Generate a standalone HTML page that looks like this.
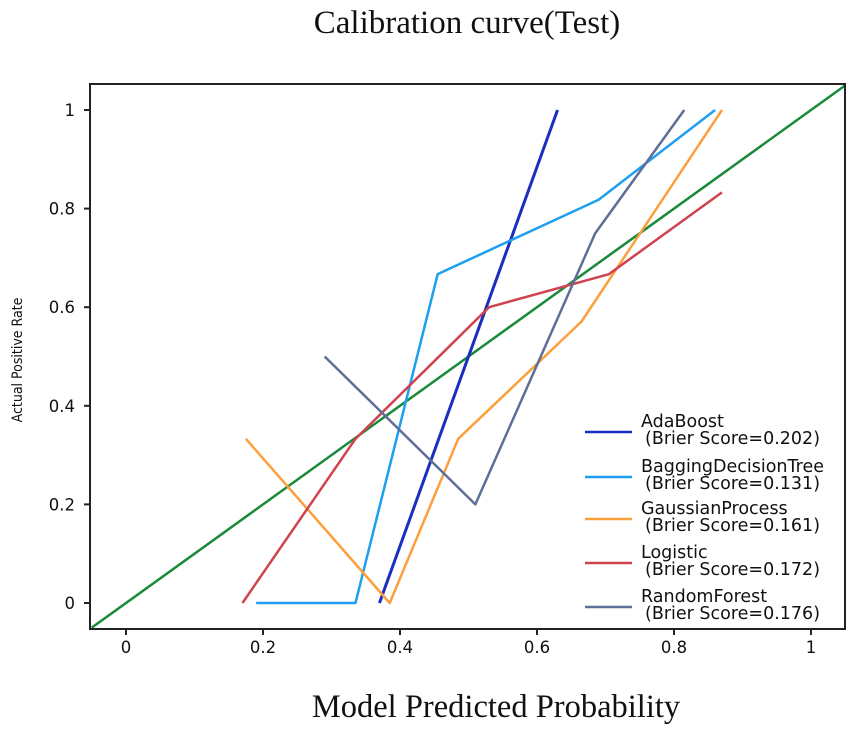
<!DOCTYPE html>
<html><head><meta charset="utf-8"><style>
body{margin:0;background:#fff;width:851px;height:730px;overflow:hidden}
svg{display:block}
</style></head><body>
<svg id="chart" width="851" height="730">
<text x="467" y="33" text-anchor="middle" font-family="Liberation Serif, serif" font-size="33" fill="#111">Calibration curve(Test)</text>
<text x="496" y="717" text-anchor="middle" font-family="Liberation Serif, serif" font-size="32.5" fill="#111">Model Predicted Probability</text>
<text transform="translate(22,360) rotate(-90)" text-anchor="middle" font-family="DejaVu Sans Condensed, DejaVu Sans, sans-serif" font-size="14" fill="#111">Actual Positive Rate</text>
<g id="plot"></g>
<rect x="90" y="84" width="755" height="545" fill="none" stroke="#222" stroke-width="2"/>
</svg>
<script>
const xTicks=[0,0.2,0.4,0.6,0.8,1];
const yTicks=[0,0.2,0.4,0.6,0.8,1];
const tickLabels=["0","0.2","0.4","0.6","0.8","1"];
const seriesNames=["AdaBoost","BaggingDecisionTree","GaussianProcess","Logistic","RandomForest"];
const brierScores=["0.202","0.131","0.161","0.172","0.176"];
const colors=["#1a2fbf","#1e9ff0","#fd9f3d","#d0434e","#5e6e96"];
const adaX=[0.37,0.63], adaY=[0,1];
const bagX=[0.19,0.335,0.455,0.69,0.86], bagY=[0,0,0.667,0.818,1];
const gpX=[0.175,0.385,0.485,0.665,0.87], gpY=[0.333,0,0.333,0.571,1];
const logX=[0.17,0.335,0.53,0.705,0.87], logY=[0,0.333,0.6,0.667,0.833];
const rfX=[0.29,0.51,0.685,0.815], rfY=[0.5,0.2,0.75,1];
const diagX=[-0.05,1.05], diagY=[-0.05,1.05];
const xs=v=>126+v*685, ys=v=>603-v*493;
const NS="http://www.w3.org/2000/svg";
const g=document.getElementById('plot');
function mk(t,a){const e=document.createElementNS(NS,t);for(const k in a)e.setAttribute(k,a[k]);g.appendChild(e);return e;}
xTicks.forEach((v,i)=>{
 const t=mk('line',{x1:xs(v),x2:xs(v),y1:629,y2:635,stroke:'#222','stroke-width':2});
 
 
 const l=mk('text',{x:xs(v),y:653,'text-anchor':'middle','font-family':'DejaVu Sans, sans-serif','font-size':16.5,fill:'#111'});
 l.textContent=tickLabels[i];
 
 
});
yTicks.forEach((v,i)=>{
 const t=mk('line',{x1:84,x2:90,y1:ys(v),y2:ys(v),stroke:'#222','stroke-width':2});
 
 
 const l=mk('text',{x:75,y:ys(v)+6,'text-anchor':'end','font-family':'DejaVu Sans, sans-serif','font-size':16.5,fill:'#111'});
 l.textContent=tickLabels[i];
 
 
});
function line(X,Y,c,name,w){
 const p=mk('polyline',{points:X.map((x,i)=>xs(x)+','+ys(Y[i])).join(' '),fill:'none',stroke:c,'stroke-width':w||2.5,'stroke-linejoin':'round'});
 
 
}
line(diagX,diagY,'#1a8a3a','perfect-calibration-line');
const SX=[adaX,bagX,gpX,logX,rfX], SY=[adaY,bagY,gpY,logY,rfY];
SX.forEach((X,i)=>line(X,SY[i],colors[i],'series-'+seriesNames[i].toLowerCase(),i==0?3:2.5));
const ly=[432,477,519,563,607];
seriesNames.forEach((n,i)=>{
 const l=mk('line',{x1:585,x2:632,y1:ly[i],y2:ly[i],stroke:colors[i],'stroke-width':2.5});
 
 
 const t=mk('text',{x:641,y:ly[i]-5,'font-family':'DejaVu Sans, sans-serif','font-size':17.5,fill:'#111'});
 t.textContent=n;
 
 
 const s=mk('text',{x:645,y:ly[i]+12,'font-family':'DejaVu Sans, sans-serif','font-size':17.5,fill:'#111'});
 s.textContent='(Brier Score='+brierScores[i]+')';
 
 
});
</script>
</body></html>
